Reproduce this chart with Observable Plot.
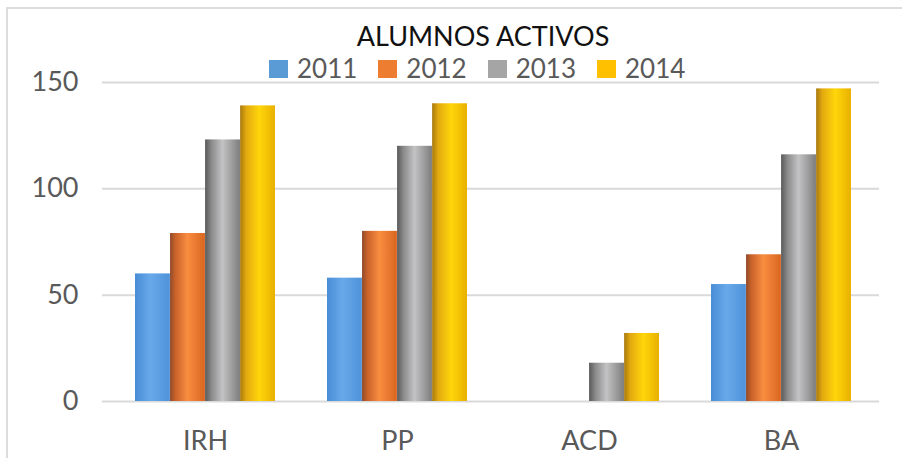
<!DOCTYPE html>
<html>
<head>
<meta charset="utf-8">
<script src="https://cdn.jsdelivr.net/npm/d3@7"></script>
<script src="https://cdn.jsdelivr.net/npm/@observablehq/plot@0.6"></script>
<style>
  html, body { margin: 0; padding: 0; background: #fff; overflow: hidden; }
  #wrap { position: relative; width: 902px; height: 458px; overflow: hidden; font-family: Lato, "Open Sans", sans-serif; }
  #frame { position: absolute; left: 6px; top: 7px; width: 1200px; height: 1200px; border: 2px solid #dcdcdc; box-sizing: border-box; }
  #chart { position: absolute; left: 0; top: 0; }
  #title { position: absolute; left: 283px; width: 400px; top: 22px; text-align: center; font-size: 27px; line-height: 27px; color: #111; }
  #legend { position: absolute; left: 269px; top: 55px; display: flex; align-items: center; font-size: 26px; line-height: 26px; color: #595959; white-space: nowrap; }
  .item { display: flex; align-items: center; margin-right: 21px; }
  .sw { width: 19px; height: 18px; margin-right: 9px; margin-top: 1px; }
</style>
</head>
<body>
<div id="wrap">
  <div id="frame"></div>
  <div id="chart"></div>
  <div id="title"></div>
  <div id="legend"></div>
</div>
<script>
const titleText = "ALUMNOS ACTIVOS";
const categories = ["IRH", "PP", "ACD", "BA"];
const years = ["2011", "2012", "2013", "2014"];
const values2011 = [60, 58, null, 55];
const values2012 = [79, 80, null, 69];
const values2013 = [123, 120, 18, 116];
const values2014 = [139, 140, 32, 147];
const yTicks = [0, 50, 100, 150];
const colors = ["#5b9bd5", "#ed7d31", "#a5a5a5", "#ffc000"];

const series = [values2011, values2012, values2013, values2014];

// gradient stops per series (cylinder-like shading)
const gradients = [
  [["0%", "#4a8dd6"], ["45%", "#68a9ea"], ["100%", "#4f92d8"]],
  [["0%", "#8e4a2a"], ["15%", "#c9622a"], ["50%", "#f98d40"], ["100%", "#d9661f"]],
  [["0%", "#5a5a5a"], ["18%", "#8a8a8a"], ["50%", "#c3c3c5"], ["100%", "#7d7d7d"]],
  [["0%", "#a87a10"], ["18%", "#e3aa10"], ["55%", "#ffd60a"], ["100%", "#e8b000"]]
];

const W = 902, H = 458;
const mL = 109, mR = 25;
const padInner = 0.27, padOuter = 0.135;
const step = (W - mL - mR) / (categories.length - padInner + 2 * padOuter);
const bandW = step * (1 - padInner);
const barW = bandW / years.length;

const marks = [
  Plot.ruleY(yTicks, {stroke: "#d9d9d9", strokeWidth: 2, insetLeft: -7, insetRight: -2})
];
years.forEach((yr, i) => {
  const rows = categories.map((c, j) => ({cat: c, value: series[i][j]})).filter(d => d.value != null);
  marks.push(Plot.barY(rows, {
    x: "cat", y: "value",
    fill: `url(#grad${yr})`,
    insetLeft: barW * i, insetRight: barW * (years.length - 1 - i)
  }));
});
marks.push(Plot.axisY(yTicks, {tickSize: 0, tickPadding: 31, label: null}));
marks.push(Plot.axisX({tickSize: 0, tickPadding: 29, label: null}));

const svg = Plot.plot({
  width: W, height: H,
  marginLeft: mL, marginRight: mR, marginTop: 82, marginBottom: 57,
  style: {fontFamily: "Lato, 'Open Sans', sans-serif", fontSize: "27px", color: "#595959", background: "transparent", overflow: "visible"},
  x: {domain: categories, paddingInner: padInner, paddingOuter: padOuter, label: null},
  y: {domain: [0, 150], label: null},
  marks
});

const defs = d3.select(svg).insert("defs", ":first-child");
years.forEach((yr, i) => {
  const g = defs.append("linearGradient").attr("id", "grad" + yr).attr("x1", "0").attr("x2", "1").attr("y1", "0").attr("y2", "0");
  gradients[i].forEach(([o, c]) => g.append("stop").attr("offset", o).attr("stop-color", c));
});

document.getElementById("chart").appendChild(svg);
document.getElementById("title").textContent = titleText;
const legend = document.getElementById("legend");
years.forEach((yr, i) => {
  const it = document.createElement("div");
  it.className = "item";
  const sw = document.createElement("div");
  sw.className = "sw";
  sw.style.background = colors[i];
  const t = document.createElement("span");
  t.textContent = yr;
  it.appendChild(sw); it.appendChild(t);
  legend.appendChild(it);
});
</script>
</body>
</html>
